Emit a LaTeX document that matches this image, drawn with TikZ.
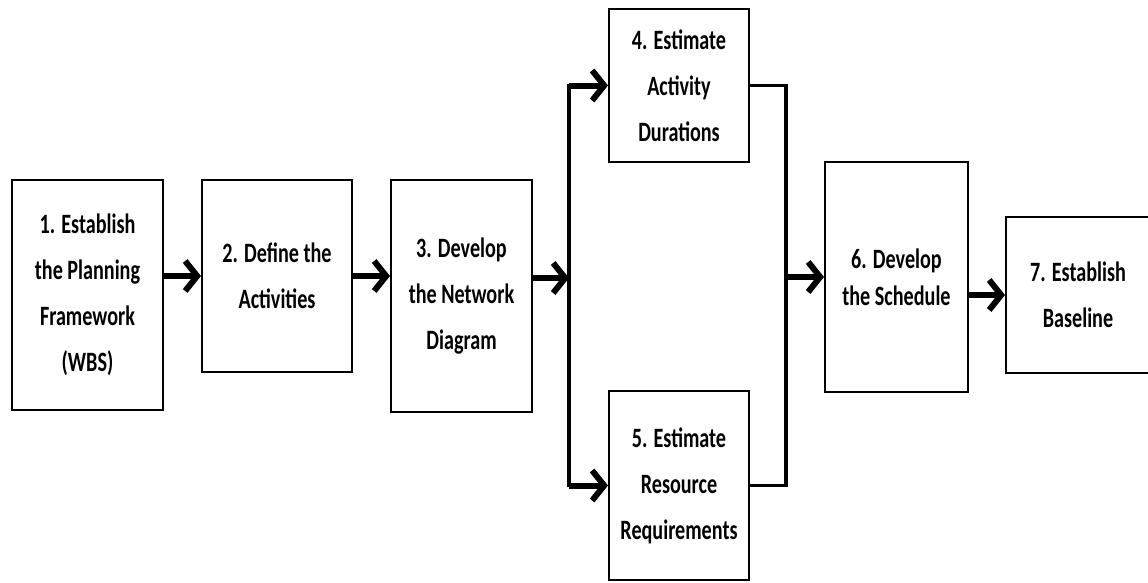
\documentclass[tikz,border=0pt]{standalone}
\usepackage{fontspec}
\setmainfont{Carlito}[FakeStretch=0.72]
\usetikzlibrary{arrows.meta}
\begin{document}
\begin{tikzpicture}[x=1pt,y=-1pt,
  stepbox/.style={draw=black, line width=2pt, fill=white, inner sep=0pt,
    align=center, font=\bfseries\fontsize{28}{46}\selectfont},
  flow/.style={line width=6pt, -{Straight Barb[length=12pt,width=30pt]}},
  merge/.style={line width=3.5pt, line cap=rect}]
\useasboundingbox (0,0) rectangle (1148,582);

% process steps
\node[stepbox, minimum width=151pt, minimum height=230pt] (b1) at (87.5,295)
  {1. Establish\\the Planning\\Framework\\(WBS)};
\node[stepbox, minimum width=150pt, minimum height=192pt] (b2) at (277,276)
  {2. Define the\\Activities};
\node[stepbox, minimum width=141pt, minimum height=232pt] (b3) at (461.5,296)
  {3. Develop\\the Network\\Diagram};
\node[stepbox, minimum width=140pt, minimum height=153pt] (b4) at (679,85.5)
  {4. Estimate\\Activity\\Durations};
\node[stepbox, minimum width=140pt, minimum height=189pt] (b5) at (679,485.5)
  {5. Estimate\\Resource\\Requirements};
\node[stepbox, minimum width=143pt, minimum height=230pt,
  font=\bfseries\fontsize{28}{37}\selectfont] (b6) at (896.5,277)
  {6. Develop\\the Schedule};
\node[stepbox, minimum width=144pt, minimum height=156pt] (b7) at (1078,295)
  {7. Establish\\Baseline};

% split and join points
\coordinate (split) at (569,278);
\coordinate (join) at (786,277);

% sequential flow
\draw[flow] (b2.west -| b1.east) -- (b2.west);
\draw[flow] (b2.east) -- (b2.east -| b3.west);
\draw[flow] (b3.east |- split) -- (split);

% branch to the parallel estimates
\draw[merge] (split |- b4.west) -- (split |- b5.west);
\draw[flow] (split |- b4.west) -- (b4.west);
\draw[flow] (split |- b5.west) -- (b5.west);

% join back into the schedule
\draw[merge] (b4.east) -| (join |- b5.east) -- (b5.east);
\draw[flow] (join) -- (join -| b6.west);
\draw[flow] (b7.west -| b6.east) -- (b7.west);
\end{tikzpicture}
\end{document}
